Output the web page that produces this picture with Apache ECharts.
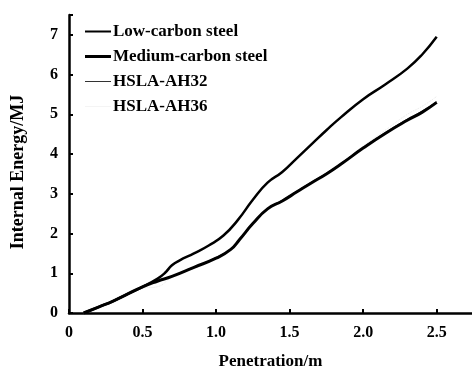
<!DOCTYPE html>
<html>
<head>
    <meta charset="utf-8">
    <title>Internal Energy vs Penetration</title>
    <script src="https://cdn.jsdelivr.net/npm/echarts@6/dist/echarts.min.js"></script>
    <style>
        html, body { margin: 0; padding: 0; background: #fff; }
        #chart1 { width: 472px; height: 372px; }
    </style>
</head>
<body>
<div id="chart1"></div>
<script type="text/javascript">
    // data
    var seriesNames = ['Low-carbon steel', 'Medium-carbon steel', 'HSLA-AH32', 'HSLA-AH36'];
    var xTicks = [0, 0.5, 1.0, 1.5, 2.0, 2.5];
    var yTicks = [0, 1, 2, 3, 4, 5, 6, 7];
    var yTickMarks = [0, 1, 2, 3, 4, 5, 6, 7, 7.5];

    var lowX = [0.1, 0.2, 0.3, 0.4, 0.5, 0.6, 0.65, 0.7, 0.75, 0.85, 0.95, 1.05, 1.15, 1.25, 1.35, 1.45, 1.55, 1.65, 1.75, 1.85, 2.0, 2.15, 2.3, 2.4, 2.5];
    var lowY = [0, 0.15, 0.3, 0.48, 0.66, 0.86, 1.0, 1.2, 1.32, 1.5, 1.7, 1.95, 2.35, 2.85, 3.28, 3.55, 3.9, 4.25, 4.6, 4.93, 5.38, 5.75, 6.15, 6.5, 6.95];

    var mediumX = [0.1, 0.2, 0.3, 0.4, 0.5, 0.6, 0.7, 0.85, 1.0, 1.1, 1.16, 1.25, 1.35, 1.45, 1.55, 1.65, 1.75, 1.85, 2.0, 2.15, 2.3, 2.4, 2.5];
    var mediumY = [0, 0.15, 0.3, 0.48, 0.66, 0.8, 0.92, 1.15, 1.38, 1.6, 1.85, 2.25, 2.62, 2.82, 3.05, 3.28, 3.5, 3.75, 4.15, 4.52, 4.85, 5.05, 5.3];

    var ah32X = [0.1, 0.2, 0.3, 0.4, 0.5, 0.6, 0.7, 0.85, 1.0, 1.1, 1.16, 1.25, 1.35, 1.45, 1.55, 1.65, 1.75, 1.85, 2.0, 2.15, 2.3, 2.4, 2.5];
    var ah32Y = [0, 0.15, 0.3, 0.48, 0.66, 0.8, 0.93, 1.16, 1.4, 1.62, 1.86, 2.27, 2.63, 2.84, 3.07, 3.3, 3.52, 3.77, 4.17, 4.54, 4.88, 5.08, 5.32];

    var ah36X = [0.1, 0.2, 0.3, 0.4, 0.5, 0.6, 0.7, 0.85, 1.0, 1.1, 1.16, 1.25, 1.35, 1.45, 1.55, 1.65, 1.75, 1.85, 2.0, 2.15, 2.3, 2.4, 2.5];
    var ah36Y = [0, 0.14, 0.28, 0.45, 0.62, 0.66, 0.9, 1.14, 1.37, 1.6, 1.84, 2.24, 2.6, 2.8, 3.04, 3.28, 3.52, 3.78, 4.2, 4.6, 5.0, 5.2, 5.45];

    function pairs(xs, ys) {
        return xs.map(function (x, i) { return [x, ys[i]]; });
    }

    var font = '"Liberation Serif", "DejaVu Serif", serif';
    var myChart1 = echarts.init(document.getElementById('chart1'));

    myChart1.setOption({
        animation: false,
        backgroundColor: '#fff',
        textStyle: { fontFamily: font, color: '#000', fontWeight: 'bold' },
        grid: { left: 69, right: 0, top: 15, bottom: 59, containLabel: false, outerBoundsMode: 'none' },
        legend: {
            orient: 'vertical',
            left: 80,
            top: 18,
            itemWidth: 26,
            itemHeight: 12,
            itemGap: 8,
            symbolKeepAspect: true,
            textStyle: { fontFamily: font, fontSize: 17, fontWeight: 'bold', color: '#000', padding: [0, 0, 0, -3] },
            data: [
                { name: seriesNames[0], icon: 'path://M0,0H26V2H0Z', itemStyle: { color: '#000' } },
                { name: seriesNames[1], icon: 'path://M0,0H26V3H0Z', itemStyle: { color: '#000' } },
                { name: seriesNames[2], icon: 'path://M0,0H26V1H0Z', itemStyle: { color: '#333' } },
                { name: seriesNames[3], icon: 'path://M0,0H26V1H0Z', itemStyle: { color: '#f4f4f4' } }
            ]
        },
        xAxis: {
            type: 'value',
            min: 0,
            max: 2.74,
            name: 'Penetration/m',
            nameLocation: 'middle',
            nameGap: 40,
            nameTextStyle: { fontFamily: font, fontSize: 17, fontWeight: 'bold', color: '#000' },
            axisLine: { lineStyle: { color: '#000', width: 2.5 } },
            axisTick: { inside: true, length: 4, customValues: xTicks, lineStyle: { color: '#000', width: 2 } },
            splitLine: { show: false },
            axisLabel: {
                margin: 12,
                fontSize: 16,
                fontWeight: 'bold',
                color: '#000',
                customValues: xTicks,
                formatter: function (v) {
                    return v === 0 ? '0' : v.toFixed(1);
                }
            }
        },
        yAxis: {
            type: 'value',
            min: 0,
            max: 7.5,
            name: 'Internal Energy/MJ',
            nameLocation: 'middle',
            nameGap: 42,
            nameTextStyle: { fontFamily: font, fontSize: 18, fontWeight: 'bold', color: '#000', padding: [0, 0, 0, -16] },
            axisLine: { show: true, lineStyle: { color: '#000', width: 2.5 } },
            axisTick: { show: true, inside: true, length: 4, customValues: yTickMarks, lineStyle: { color: '#000', width: 2 } },
            splitLine: { show: false },
            axisLabel: {
                margin: 11,
                fontSize: 16,
                fontWeight: 'bold',
                color: '#000',
                customValues: yTicks,
                formatter: function (v) {
                    return String(v);
                }
            }
        },
        series: [
            {
                name: seriesNames[0],
                type: 'line',
                data: pairs(lowX, lowY),
                smooth: true,
                symbol: 'none',
                itemStyle: { color: '#000' },
                lineStyle: { color: '#000', width: 2.5 },
                z: 4
            },
            {
                name: seriesNames[1],
                type: 'line',
                data: pairs(mediumX, mediumY),
                smooth: true,
                symbol: 'none',
                itemStyle: { color: '#000' },
                lineStyle: { color: '#000', width: 3 },
                z: 3
            },
            {
                name: seriesNames[2],
                type: 'line',
                data: pairs(ah32X, ah32Y),
                smooth: true,
                symbol: 'none',
                itemStyle: { color: '#333' },
                lineStyle: { color: '#333', width: 1 },
                z: 2
            },
            {
                name: seriesNames[3],
                type: 'line',
                data: pairs(ah36X, ah36Y),
                smooth: true,
                symbol: 'none',
                itemStyle: { color: '#e8e8e8' },
                lineStyle: { color: '#e8e8e8', width: 1, type: 'dotted' },
                z: 1
            }
        ]
    });
</script>
</body>
</html>
